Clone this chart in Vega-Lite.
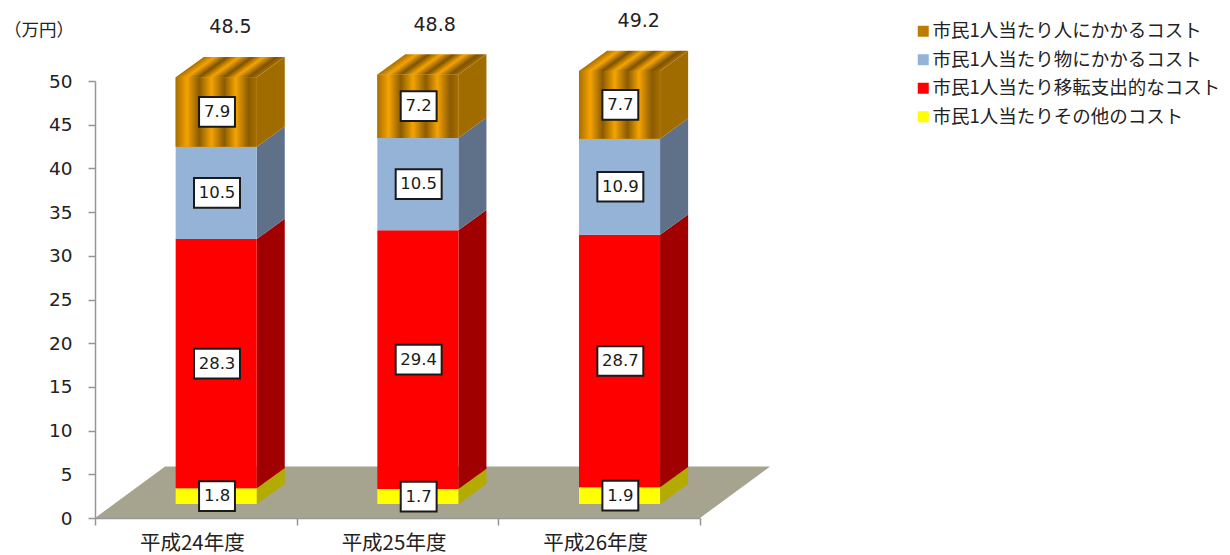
{
  "$schema": "https://vega.github.io/schema/vega-lite/v6.json",
  "width": 605,
  "height": 437,
  "autosize": {"type": "none"},
  "padding": {"left": 95, "top": 81, "right": 530, "bottom": 37},
  "background": "#ffffff",
  "config": {"view": {"stroke": null}},
  "data": {
    "values": [
      {"year": "平成24年度", "segment": "市民1人当たりその他のコスト", "value": 1.8},
      {"year": "平成24年度", "segment": "市民1人当たり移転支出的なコスト", "value": 28.3},
      {"year": "平成24年度", "segment": "市民1人当たり物にかかるコスト", "value": 10.5},
      {"year": "平成24年度", "segment": "市民1人当たり人にかかるコスト", "value": 7.9},
      {"year": "平成25年度", "segment": "市民1人当たりその他のコスト", "value": 1.7},
      {"year": "平成25年度", "segment": "市民1人当たり移転支出的なコスト", "value": 29.4},
      {"year": "平成25年度", "segment": "市民1人当たり物にかかるコスト", "value": 10.5},
      {"year": "平成25年度", "segment": "市民1人当たり人にかかるコスト", "value": 7.2},
      {"year": "平成26年度", "segment": "市民1人当たりその他のコスト", "value": 1.9},
      {"year": "平成26年度", "segment": "市民1人当たり移転支出的なコスト", "value": 28.7},
      {"year": "平成26年度", "segment": "市民1人当たり物にかかるコスト", "value": 10.9},
      {"year": "平成26年度", "segment": "市民1人当たり人にかかるコスト", "value": 7.7}
    ]
  },
  "transform": [
    {"calculate": "indexof(['平成24年度','平成25年度','平成26年度'], datum.year)", "as": "yearIndex"},
    {"calculate": "indexof(['市民1人当たりその他のコスト','市民1人当たり移転支出的なコスト','市民1人当たり物にかかるコスト','市民1人当たり人にかかるコスト'], datum.segment)", "as": "level"},
    {"stack": "value", "groupby": ["year"], "sort": [{"field": "level", "order": "ascending"}], "as": ["stackLow", "stackHigh"]},
    {"joinaggregate": [{"op": "sum", "field": "value", "as": "total"}], "groupby": ["year"]},
    {"calculate": "datum.yearIndex + 0.4", "as": "left"},
    {"calculate": "datum.left + 0.402", "as": "right"},
    {"calculate": "datum.stackLow * 1.007 + 1.6", "as": "low"},
    {"calculate": "datum.stackHigh * 1.007 + 1.6", "as": "high"}
  ],
  "layer": [
    {
      "description": "Floor of the 3D plot, a parallelogram receding from the category axis",
      "data": {"values": [{"surface": "floor"}]},
      "transform": [
        {"calculate": "[0, 1]", "as": "depth"},
        {"flatten": ["depth"]},
        {"calculate": "datum.depth * 0.3476", "as": "floorLeft"},
        {"calculate": "3 + datum.depth * 0.3476", "as": "floorRight"},
        {"calculate": "datum.depth * 5.9", "as": "floorY"}
      ],
      "mark": {"type": "area", "orient": "horizontal", "fill": "#A6A38F"},
      "encoding": {
        "x": {
          "field": "floorLeft",
          "type": "quantitative",
          "stack": null,
          "scale": {"domain": [0, 3], "nice": false, "zero": false},
          "axis": {
            "title": null,
            "values": [0, 0.5, 1, 1.5, 2, 2.5, 3],
            "labelExpr": "datum.value % 1 ? ['平成24年度','平成25年度','平成26年度'][floor(datum.value)] : ''",
            "labelFont": "Noto Sans CJK JP",
            "labelFontSize": 20.5,
            "labelColor": "#222222",
            "labelOverlap": false,
            "labelPadding": 8,
            "labelOffset": -4,
            "labelAngle": 0,
            "grid": false,
            "domainColor": "#969696",
            "domainWidth": 1.5,
            "tickColor": "#969696",
            "tickWidth": 1.5,
            "tickSize": 7,
            "tickOpacity": {"condition": {"test": "datum.value % 1 == 0", "value": 1}, "value": 0}
          }
        },
        "x2": {"field": "floorRight"},
        "y": {
          "field": "floorY",
          "type": "quantitative",
          "scale": {"domain": [0, 50], "nice": false, "zero": false},
          "axis": {
            "title": "（万円）",
            "titleFont": "Noto Sans CJK JP",
            "titleFontSize": 17.5,
            "titleFontWeight": "normal",
            "titleColor": "#222222",
            "titleAngle": 0,
            "titleX": -56.5,
            "titleY": -51,
            "titleAlign": "center",
            "titleBaseline": "middle",
            "values": [0, 5, 10, 15, 20, 25, 30, 35, 40, 45, 50],
            "labelFont": "DejaVu Sans",
            "labelFontSize": 18.5,
            "labelColor": "#222222",
            "labelPadding": 16,
            "grid": false,
            "domainColor": "#969696",
            "domainWidth": 1.5,
            "tickColor": "#969696",
            "tickWidth": 1.5,
            "tickSize": 7
          }
        }
      }
    },
    {
      "description": "Shaded right-hand side of every stacked segment",
      "transform": [
        {"calculate": "['#B3AB00', '#A00000', '#5F7089', '#A06C00'][datum.level]", "as": "shade"},
        {"calculate": "[0, 1]", "as": "depth"},
        {"flatten": ["depth"]},
        {"calculate": "datum.right + datum.depth * 0.139", "as": "sideX"},
        {"calculate": "datum.low + datum.depth * 2.32", "as": "sideLow"},
        {"calculate": "datum.high + datum.depth * 2.32", "as": "sideHigh"}
      ],
      "mark": {"type": "area", "orient": "vertical"},
      "encoding": {
        "x": {"field": "sideX", "type": "quantitative"},
        "y": {"field": "sideLow", "type": "quantitative", "stack": null},
        "y2": {"field": "sideHigh"},
        "detail": {"field": "year"},
        "fill": {"field": "shade", "type": "nominal", "scale": null}
      }
    },
    {
      "description": "Striped top face of each column",
      "transform": [
        {"filter": "datum.level == 3"},
        {"calculate": "[0, 1]", "as": "depth"},
        {"flatten": ["depth"]},
        {"calculate": "datum.left + datum.depth * 0.139", "as": "topLeft"},
        {"calculate": "datum.right + datum.depth * 0.139", "as": "topRight"},
        {"calculate": "datum.high + datum.depth * 2.32", "as": "topY"}
      ],
      "mark": {
        "type": "area",
        "orient": "horizontal",
        "fill": {
          "gradient": "linear",
          "x1": 0, "y1": 1, "x2": 0.697, "y2": 1.179,
          "stops": [
            {"offset": 0, "color": "#A86E00"},
            {"offset": 0.14, "color": "#F5A300"},
            {"offset": 0.29, "color": "#7C5200"},
            {"offset": 0.44, "color": "#F5A300"},
            {"offset": 0.6, "color": "#7C5200"},
            {"offset": 0.74, "color": "#F5A300"},
            {"offset": 0.9, "color": "#7C5200"},
            {"offset": 1, "color": "#A86E00"}
          ]
        }
      },
      "encoding": {
        "x": {"field": "topLeft", "type": "quantitative", "stack": null},
        "x2": {"field": "topRight"},
        "y": {"field": "topY", "type": "quantitative"},
        "detail": {"field": "year"}
      }
    },
    {
      "description": "Front faces and the colour legend",
      "mark": {"type": "rect"},
      "encoding": {
        "x": {"field": "left", "type": "quantitative"},
        "x2": {"field": "right"},
        "y": {"field": "low", "type": "quantitative"},
        "y2": {"field": "high"},
        "color": {
          "field": "segment",
          "type": "nominal",
          "sort": null,
          "scale": {
            "domain": ["市民1人当たり人にかかるコスト", "市民1人当たり物にかかるコスト", "市民1人当たり移転支出的なコスト", "市民1人当たりその他のコスト"],
            "range": ["#BC7C00", "#95B3D7", "#FF0000", "#FFFF00"]
          },
          "legend": {
            "title": null,
            "orient": "none",
            "legendX": 819,
            "legendY": -59,
            "symbolType": "square",
            "symbolSize": 121,
            "symbolStrokeWidth": 0,
            "labelFont": "Noto Sans CJK JP",
            "labelFontSize": 18.5,
            "labelColor": "#222222",
            "labelLimit": 400,
            "labelOffset": 0,
            "rowPadding": 9.5
          }
        }
      }
    },
    {
      "description": "Vertical banding on the front of the top segment",
      "transform": [{"filter": "datum.level == 3"}],
      "mark": {
        "type": "rect",
        "fill": {
          "gradient": "linear",
          "x1": 0, "y1": 0, "x2": 1, "y2": 0,
          "stops": [
            {"offset": 0, "color": "#A86E00"},
            {"offset": 0.14, "color": "#F5A300"},
            {"offset": 0.29, "color": "#8A5B00"},
            {"offset": 0.44, "color": "#F5A300"},
            {"offset": 0.6, "color": "#8A5B00"},
            {"offset": 0.74, "color": "#F5A300"},
            {"offset": 0.9, "color": "#8A5B00"},
            {"offset": 1, "color": "#A86E00"}
          ]
        }
      },
      "encoding": {
        "x": {"field": "left", "type": "quantitative"},
        "x2": {"field": "right"},
        "y": {"field": "low", "type": "quantitative"},
        "y2": {"field": "high"}
      }
    },
    {
      "description": "White boxes behind the value labels",
      "transform": [
        {"calculate": "datum.left + 0.205", "as": "middle"},
        {"calculate": "(datum.low + datum.high) / 2", "as": "centre"},
        {"calculate": "datum.value >= 10 ? 0.114 : 0.089", "as": "halfWidth"},
        {"calculate": "datum.middle - datum.halfWidth", "as": "boxLeft"},
        {"calculate": "datum.middle + datum.halfWidth", "as": "boxRight"},
        {"calculate": "datum.centre - 1.7", "as": "boxLow"},
        {"calculate": "datum.centre + 1.7", "as": "boxHigh"}
      ],
      "mark": {"type": "rect", "fill": "#ffffff", "stroke": "#1a1a1a", "strokeWidth": 2},
      "encoding": {
        "x": {"field": "boxLeft", "type": "quantitative"},
        "x2": {"field": "boxRight"},
        "y": {"field": "boxLow", "type": "quantitative"},
        "y2": {"field": "boxHigh"}
      }
    },
    {
      "description": "Value of every segment",
      "transform": [
        {"calculate": "datum.left + 0.205", "as": "middle"},
        {"calculate": "(datum.low + datum.high) / 2", "as": "centre"}
      ],
      "mark": {"type": "text", "font": "DejaVu Sans", "fontSize": 16.5, "color": "#1a1a1a", "align": "center", "baseline": "middle"},
      "encoding": {
        "x": {"field": "middle", "type": "quantitative"},
        "y": {"field": "centre", "type": "quantitative"},
        "text": {"field": "value", "type": "quantitative", "format": ".1f"}
      }
    },
    {
      "description": "Column totals above the top faces",
      "transform": [
        {"filter": "datum.level == 3"},
        {"calculate": "datum.left + 0.272 + datum.yearIndex * 0.012", "as": "middle"},
        {"calculate": "datum.high + 5.72", "as": "above"}
      ],
      "mark": {"type": "text", "font": "DejaVu Sans", "fontSize": 19, "color": "#222222", "align": "center", "baseline": "middle"},
      "encoding": {
        "x": {"field": "middle", "type": "quantitative"},
        "y": {"field": "above", "type": "quantitative"},
        "text": {"field": "total", "type": "quantitative", "format": ".1f"}
      }
    }
  ]
}
